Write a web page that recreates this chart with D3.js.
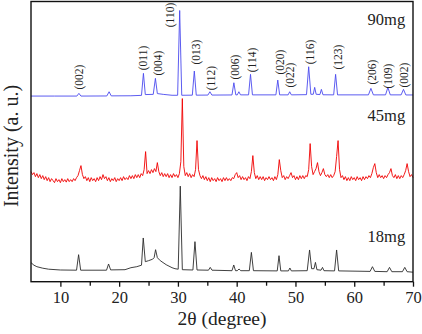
<!DOCTYPE html>
<html>
<head>
<meta charset="utf-8">
<script src="https://cdn.jsdelivr.net/npm/d3@7"></script>
<style>
  body { margin: 0; background: #fff; }
  text { font-family: "Liberation Serif", "Times New Roman", serif; }
</style>
</head>
<body>
<div id="xrd"></div>
<script>
// XRD patterns, intensity in a.u. (already stacked)
const sample90 = [
  [5,185.5],[9,185.5],[12.8,185.5],[13.15,188.2],[13.5,185.5],[17.9,185.6],[18.29,189.8],[18.65,185.7],
  [22,185.8],[23.8,186.2],[24.13,208.2],[24.45,187],[25.8,187.2],[26.17,203.2],[26.5,188],[27.5,187.2],
  [29,186.3],[29.95,186.3],[30.3,271],[30.65,186.3],[32.45,186.4],[32.79,210.5],[33.12,186.4],
  [35.1,186.5],[35.44,189.8],[35.78,186.5],[39.2,186.6],[39.52,198.8],[39.85,186.7],[40.1,186.7],
  [40.37,189.8],[40.65,186.7],[42.02,186.7],[42.35,207.2],[42.68,186.7],[46.67,186.7],[46.99,201.5],
  [47.31,186.7],[48.75,186.7],[49.02,189.8],[49.3,186.7],[51.88,186.9],[52.25,214.8],[52.62,187.3],
  [53.03,187.3],[53.27,194.2],[53.52,187.3],[54.16,187],[54.41,192.2],[54.68,186.8],[56.5,186.7],
  [56.83,207.2],[57.16,186.7],[62.42,186.7],[62.84,193.2],[63.26,186.7],[65.33,186.7],[65.73,194.2],
  [66.13,186.7],[67.98,186.7],[68.38,192.2],[68.78,186.6],[70,186.6]
];

// 45mg pattern, one value every 0.25 degree from 5 to 70
const sample45Start = 5, sample45Step = 0.25;
const sample45 = [
  110,107,109,105,  108,104,107,103,  106,102,105,101,  104,100,103,101,   //  5- 8
  99,103,100,102,   99,103,100,102,   99.5,103,100,102, 100,103,101,104,   //  9-12
  106,111,116,107,  103,105,101,104,  100,104,101,103,  100,104,101,105,   // 13-16
  102,107,103,105,  101,104,100,103,  101,104,100,103,  101,104,101,105,   // 17-20
  102,104,102,106,  103,106,103,107,  104,107,104,108,  106,112,130,108,   // 21-24
  111,108,112,109,  113,110,119,110,  106,109,105,108,  105,108,104,107,   // 25-28
  104,108,105,107,  104,108,120,183,  115,106,109,105,  108,104,107,105,   // 29-32
  112,141,112,106,  103,106,102,105,  101,104,100,104,  101,103,100,104,   // 33-36
  101,103,100,104,  101,104,101,103,  101,104,103,107,  109,104,106,102,   // 37-40
  105,102,104,101,  105,103,110,126,  109,103,106,102,  105,102,105,101,   // 41-44
  104,102,105,102,  104,101,105,102,  107,122,111,104,  106,102,105,103,   // 45-48
  106,109,104,106,  102,105,102,106,  103,106,103,106,  105,112,138,115,   // 49-52
  107,110,113,119,  110,106,109,113,  107,105,107,104,  107,104,106,110,   // 53-56
  125,141,112,104,  106,102,105,101,  104,101,105,102,  104,101,105,102,   // 57-60
  104,101,105,102,  105,103,106,104,  108,114,118,109,  104,107,104,106,   // 61-64
  103,106,104,107,  109,113,106,104,  107,103,106,103,  106,104,107,111,   // 65-68
  118,110,105,107,  104                                                    // 69-70
];

const sample18 = [
  [5,19],[5.5,16.5],[6,15],[7,13.5],[8,12.5],[10,11.7],[12.75,11.5],[13.1,27],[13.45,11.5],
  [17.85,11.5],[18.2,17.7],[18.55,11.8],[21,12],[22,14],[23,15],[23.8,16.5],[24.1,43.7],
  [24.45,20],[25,21],[25.7,22.5],[25.95,24],[26.2,32],[26.5,24],[27,21],[28,17],[29,14],
  [29.5,13],[30.05,12.5],[30.4,95.5],[30.75,12],[32.55,11.7],[32.9,40],[33.25,11.7],
  [35.2,11.5],[35.5,14.3],[35.8,11.5],[39.2,11],[39.5,16.7],[39.8,11],[40.1,11],[40.4,12.7],
  [40.7,11],[42.15,11],[42.5,29.3],[42.85,11],[46.9,10.8],[47.2,26],[47.5,10.8],[48.8,10.8],
  [49.05,13.7],[49.3,10.8],[52.0,11],[52.4,31.7],[52.75,13],[53.15,13],[53.4,19.3],[53.65,12],
  [54.35,11.5],[54.6,14.3],[54.85,11],[56.65,10.8],[57.0,31.7],[57.35,10.8],[62.7,10.3],
  [63.1,15],[63.5,10.3],[65.6,10],[66.0,14.3],[66.4,10],[68.2,10],[68.6,14.3],[69.0,10],[70,9.5]
];

// Miller indices marked on the 90mg pattern
const hkl = ["(002)","(011)","(004)","(110)","(013)","(112)","(006)","(114)","(020)",
             "(022)","(116)","(123)","(206)","(109)","(002)"];
const hklTheta = [13.15,24.07,26.6,28.7,33.1,35.7,39.75,42.6,47.3,49.15,52.4,57.2,62.95,65.8,68.4];
const hklLevel = [204.5,223.5,218.5,266.5,229.5,203.5,214.5,221.5,219.5,206.5,229.5,224.5,209.5,205.5,206.5];

const sampleNames = ["90mg","45mg","18mg"];
const sampleLevels = [256.5,160.5,39.5];

const xTicks = [10,20,30,40,50,60,70];
const xMinorTicks = [15,25,35,45,55,65];

// set the dimensions and margins of the graph
const W = 422, H = 334;
const plot = {left: 31, right: 413, top: 1.5, bottom: 281.7};

const svg = d3.select("#xrd")
  .append("svg")
    .attr("width", W)
    .attr("height", H);

const x = d3.scaleLinear().domain([5, 70]).range([plot.left, plot.right]);
const y = d3.scaleLinear().domain([0, 280]).range([plot.bottom, plot.top]);

const line = d3.line()
  .x(d => x(d[0]))
  .y(d => y(d[1]));

const red = sample45.map((v, i) => [sample45Start + i*sample45Step, v]);

svg.append("path").datum(sample18)
  .attr("fill", "none").attr("stroke", "#2b2b2b").attr("stroke-width", 0.9)
  .attr("d", line);
svg.append("path").datum(red)
  .attr("fill", "none").attr("stroke", "#f00000").attr("stroke-width", 0.9)
  .attr("d", line);
svg.append("path").datum(sample90)
  .attr("fill", "none").attr("stroke", "#4a4aee").attr("stroke-width", 0.9)
  .attr("d", line);

// peak labels
svg.append("g").selectAll("text")
  .data(hkl)
  .join("text")
    .attr("transform", (d, i) => `translate(${x(hklTheta[i])},${y(hklLevel[i])}) rotate(-90)`)
    .attr("text-anchor", "middle")
    .attr("dy", "0.35em")
    .attr("font-size", 11.5)
    .attr("fill", "#222")
    .text(d => d);

// sample labels
svg.append("g").selectAll("text")
  .data(sampleNames)
  .join("text")
    .attr("x", x(68.67))
    .attr("y", (d, i) => y(sampleLevels[i]))
    .attr("text-anchor", "end")
    .attr("font-size", 16.5)
    .attr("fill", "#222")
    .text(d => d);

// frame
svg.append("rect")
  .attr("x", plot.left).attr("y", plot.top)
  .attr("width", plot.right - plot.left)
  .attr("height", plot.bottom - plot.top)
  .attr("fill", "none").attr("stroke", "#111").attr("stroke-width", 1.4);

// X axis
const xAxis = svg.append("g")
  .attr("transform", `translate(0,${plot.bottom})`)
  .call(d3.axisBottom(x).tickValues(xTicks).tickSize(5).tickPadding(5));
xAxis.select(".domain").remove();
xAxis.selectAll("line").attr("stroke", "#111").attr("stroke-width", 1.3);
xAxis.selectAll("text")
  .attr("font-family", '"Liberation Serif", "Times New Roman", serif')
  .attr("font-size", 16.5).attr("fill", "#222");

const xMinor = svg.append("g")
  .attr("transform", `translate(0,${plot.bottom})`)
  .call(d3.axisBottom(x).tickValues(xMinorTicks).tickSize(4).tickFormat(""));
xMinor.select(".domain").remove();
xMinor.selectAll("line").attr("stroke", "#111").attr("stroke-width", 1.3);

// axis titles
svg.append("text")
  .attr("x", 222).attr("y", 325)
  .attr("text-anchor", "middle")
  .attr("font-size", 19.5).attr("fill", "#222")
  .text("2θ (degree)");

svg.append("text")
  .attr("transform", "translate(18,146) rotate(-90)")
  .attr("text-anchor", "middle")
  .attr("font-size", 20).attr("fill", "#222")
  .text("Intensity (a. u.)");
</script>
</body>
</html>
